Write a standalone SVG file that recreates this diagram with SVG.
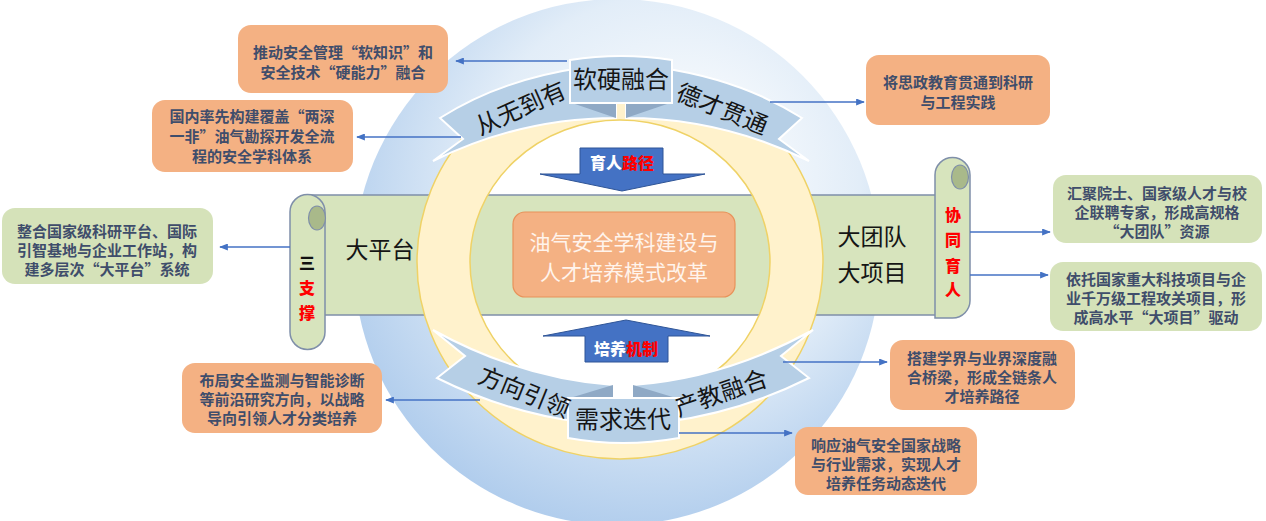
<svg xmlns="http://www.w3.org/2000/svg" width="1266" height="521" viewBox="0 0 1266 521">
<defs>
<radialGradient id="bg" cx="0.55" cy="0.4" r="0.66" fx="0.66" fy="0.3">
<stop offset="0" stop-color="#ffffff"/>
<stop offset="0.55" stop-color="#e2edf8"/>
<stop offset="1" stop-color="#a9c8eb"/>
</radialGradient>
<marker id="ah" viewBox="0 0 10 8" refX="9" refY="4" markerWidth="9" markerHeight="7" markerUnits="userSpaceOnUse" orient="auto">
<path d="M0,0 L10,4 L0,8 Z" fill="#4472c4"/>
</marker>
<style>
.ob{fill:#f4b183;}
.gb{fill:#d5e2b9;}
.bt{font-family:"Noto Sans CJK SC","Noto Sans",sans-serif;font-size:15px;font-weight:700;fill:#3f4d6b;text-anchor:middle;}
.conn{stroke:#4472c4;stroke-width:1.6;fill:none;marker-end:url(#ah);}
.rib{fill:#b6cfe6;stroke:#ffffff;stroke-width:2;}
.fold{fill:#8fa9c5;}
.rt{font-family:"Noto Sans CJK SC","Noto Sans",sans-serif;font-size:24px;fill:#151515;text-anchor:middle;}
.st{font-family:"Noto Sans CJK SC","Noto Sans",sans-serif;font-size:23px;fill:#151515;text-anchor:middle;}
.cal{font-family:"Noto Sans CJK SC","Noto Sans",sans-serif;font-size:16px;font-weight:900;text-anchor:middle;}
.scroll{fill:#d7e4bd;stroke:#7f8fa9;stroke-width:1.5;}
.curl{fill:#a9b98a;stroke:#7f8fa9;stroke-width:1.2;}
.arr{fill:#4472c4;stroke:#2f5597;stroke-width:1;}
</style>
</defs>
<rect width="1266" height="521" fill="#ffffff"/>

<g id="background">
<circle cx="617" cy="262" r="263" fill="url(#bg)"/>
<ellipse cx="620" cy="262" rx="150" ry="142" fill="#ffffff"/>
</g>

<g id="scroll">
<rect class="scroll" x="307" y="195" width="640" height="120"/>
<path class="scroll" d="M290,212 A17.5,17.5 0 0 1 325,212 V332 A17.5,17.5 0 0 1 290,332 Z"/>
<ellipse class="curl" cx="317" cy="218" rx="8.5" ry="12"/>
<path class="scroll" d="M935,318 V175 A17.5,17.5 0 0 1 970,175 V300 A17.5,17.5 0 0 1 952.5,318 Z"/>
<ellipse class="curl" cx="960" cy="177" rx="8.5" ry="12"/>
<text class="st" x="380" y="258">大平台</text>
<text class="st" x="872" y="245">大团队</text>
<text class="st" x="872" y="281">大项目</text>
<text class="cal" x="307" y="269" fill="#111111">三</text>
<text class="cal" x="307" y="294" fill="#ff0000">支</text>
<text class="cal" x="307" y="319" fill="#ff0000">撑</text>
<text class="cal" x="953" y="221" fill="#ff0000">协</text>
<text class="cal" x="953" y="246" fill="#ff0000">同</text>
<text class="cal" x="953" y="272" fill="#ff0000">育</text>
<text class="cal" x="953" y="296" fill="#ff0000">人</text>
</g>

<g id="ring">
<path d="M417,262 A203,197 0 1 0 823,262 A203,197 0 1 0 417,262 Z M470,262 A150,142 0 1 0 770,262 A150,142 0 1 0 470,262 Z" fill="#fff2cc" fill-rule="evenodd" stroke="#efd266" stroke-width="1.5"/>
</g>

<g id="center">
<rect x="513" y="212" width="222" height="85" rx="12" fill="#f4b183" stroke="#e8925a" stroke-width="1.2"/>
<text x="624" y="250" font-family="Noto Sans CJK SC, sans-serif" font-size="21" fill="#fff4ec" text-anchor="middle">油气安全学科建设与</text>
<text x="624" y="280" font-family="Noto Sans CJK SC, sans-serif" font-size="21" fill="#fff4ec" text-anchor="middle">人才培养模式改革</text>
</g>

<g id="arrow-path">
<path class="arr" d="M580,148 H663 V174 H705 L622,191 L540,174 H580 Z"/>
<text class="cal" x="622" y="169" font-size="17"><tspan fill="#ffffff">育人</tspan><tspan fill="#ff0000">路径</tspan></text>
</g>
<g id="arrow-mech">
<path class="arr" d="M626,320 L710,336 H668 V362 H585 V336 H543 Z"/>
<text class="cal" x="626" y="355" font-size="17"><tspan fill="#ffffff">培养</tspan><tspan fill="#ff0000">机制</tspan></text>
</g>

<g id="ribbon-top">
<path class="rib" d="M580,68 Q500,80 440,118 L463,139 L433,161 Q520,118 616,118 L616,103 L580,103 Z"/>
<path class="rib" d="M662,68 Q742,80 802,118 L779,139 L809,161 Q722,118 626,118 L626,103 L662,103 Z"/>
<path class="fold" d="M572,103 L616,103 L616,118 Z"/>
<path class="fold" d="M626,103 L670,103 L626,118 Z"/>
<path class="rib" d="M570,60 Q621,52 672,60 L672,103 L570,103 Z"/>
<text class="rt" x="621" y="88">软硬融合</text>
<text class="rt" transform="translate(524,116) rotate(-24)">从无到有</text>
<text class="rt" transform="translate(719,117) rotate(22)">德才贯通</text>
</g>

<g id="ribbon-bottom">
<path class="rib" d="M613,385 Q520,378 433,330 L465,356 L437,378 Q505,412 580,422 L613,398 Z"/>
<path class="rib" d="M633,385 Q726,378 813,330 L781,356 L809,378 Q741,412 666,422 L633,398 Z"/>
<path class="fold" d="M570,398 L613,398 L613,385 Z"/>
<path class="fold" d="M633,385 L633,398 L676,398 Z"/>
<path class="rib" d="M568,398 L679,398 L679,438 Q623,448 568,438 Z"/>
<text class="rt" x="623" y="428">需求迭代</text>
<text class="rt" transform="translate(521,400) rotate(22)">方向引领</text>
<text class="rt" transform="translate(724,401) rotate(-19)">产教融合</text>
</g>

<g id="connectors">
<path class="conn" d="M567,61 H456"/>
<path class="conn" d="M461,137 H357"/>
<path class="conn" d="M770,102 H864"/>
<path class="conn" d="M290,247 H220"/>
<path class="conn" d="M970,232 H1050"/>
<path class="conn" d="M970,275 H1048"/>
<path class="conn" d="M480,400 H386"/>
<path class="conn" d="M783,362 H887"/>
<path class="conn" d="M679,433 H792"/>
</g>

<g id="n1">
<rect class="ob" x="238" y="25" width="210" height="68" rx="13"/>
<text class="bt"><tspan x="343" y="58">推动安全管理“软知识”和</tspan><tspan x="343" y="78">安全技术“硬能力”融合</tspan></text>
</g>
<g id="n2">
<rect class="ob" x="152" y="100" width="201" height="72" rx="13"/>
<text class="bt"><tspan x="252" y="122">国内率先构建覆盖“两深</tspan><tspan x="252" y="142">一非”油气勘探开发全流</tspan><tspan x="252" y="162">程的安全学科体系</tspan></text>
</g>
<g id="n3">
<rect class="ob" x="866" y="55" width="184" height="70" rx="13"/>
<text class="bt"><tspan x="958" y="88">将思政教育贯通到科研</tspan><tspan x="958" y="108">与工程实践</tspan></text>
</g>
<g id="n4">
<rect class="gb" x="2" y="208" width="211" height="76" rx="13"/>
<text class="bt"><tspan x="107" y="237">整合国家级科研平台、国际</tspan><tspan x="107" y="256">引智基地与企业工作站，构</tspan><tspan x="107" y="275">建多层次“大平台”系统</tspan></text>
</g>
<g id="n5">
<rect class="gb" x="1053" y="175" width="209" height="68" rx="13"/>
<text class="bt"><tspan x="1157" y="199">汇聚院士、国家级人才与校</tspan><tspan x="1157" y="218">企联聘专家，形成高规格</tspan><tspan x="1157" y="237">“大团队”资源</tspan></text>
</g>
<g id="n6">
<rect class="gb" x="1050" y="262" width="212" height="69" rx="13"/>
<text class="bt"><tspan x="1156" y="285">依托国家重大科技项目与企</tspan><tspan x="1156" y="304">业千万级工程攻关项目，形</tspan><tspan x="1156" y="323">成高水平“大项目”驱动</tspan></text>
</g>
<g id="n7">
<rect class="ob" x="182" y="363" width="200" height="70" rx="13"/>
<text class="bt"><tspan x="282" y="386">布局安全监测与智能诊断</tspan><tspan x="282" y="405">等前沿研究方向，以战略</tspan><tspan x="282" y="424">导向引领人才分类培养</tspan></text>
</g>
<g id="n8">
<rect class="ob" x="890" y="340" width="185" height="70" rx="13"/>
<text class="bt"><tspan x="982" y="364">搭建学界与业界深度融</tspan><tspan x="982" y="383">合桥梁，形成全链条人</tspan><tspan x="982" y="402">才培养路径</tspan></text>
</g>
<g id="n9">
<rect class="ob" x="795" y="427" width="182" height="68" rx="13"/>
<text class="bt"><tspan x="886" y="451">响应油气安全国家战略</tspan><tspan x="886" y="470">与行业需求，实现人才</tspan><tspan x="886" y="489">培养任务动态迭代</tspan></text>
</g>
</svg>
